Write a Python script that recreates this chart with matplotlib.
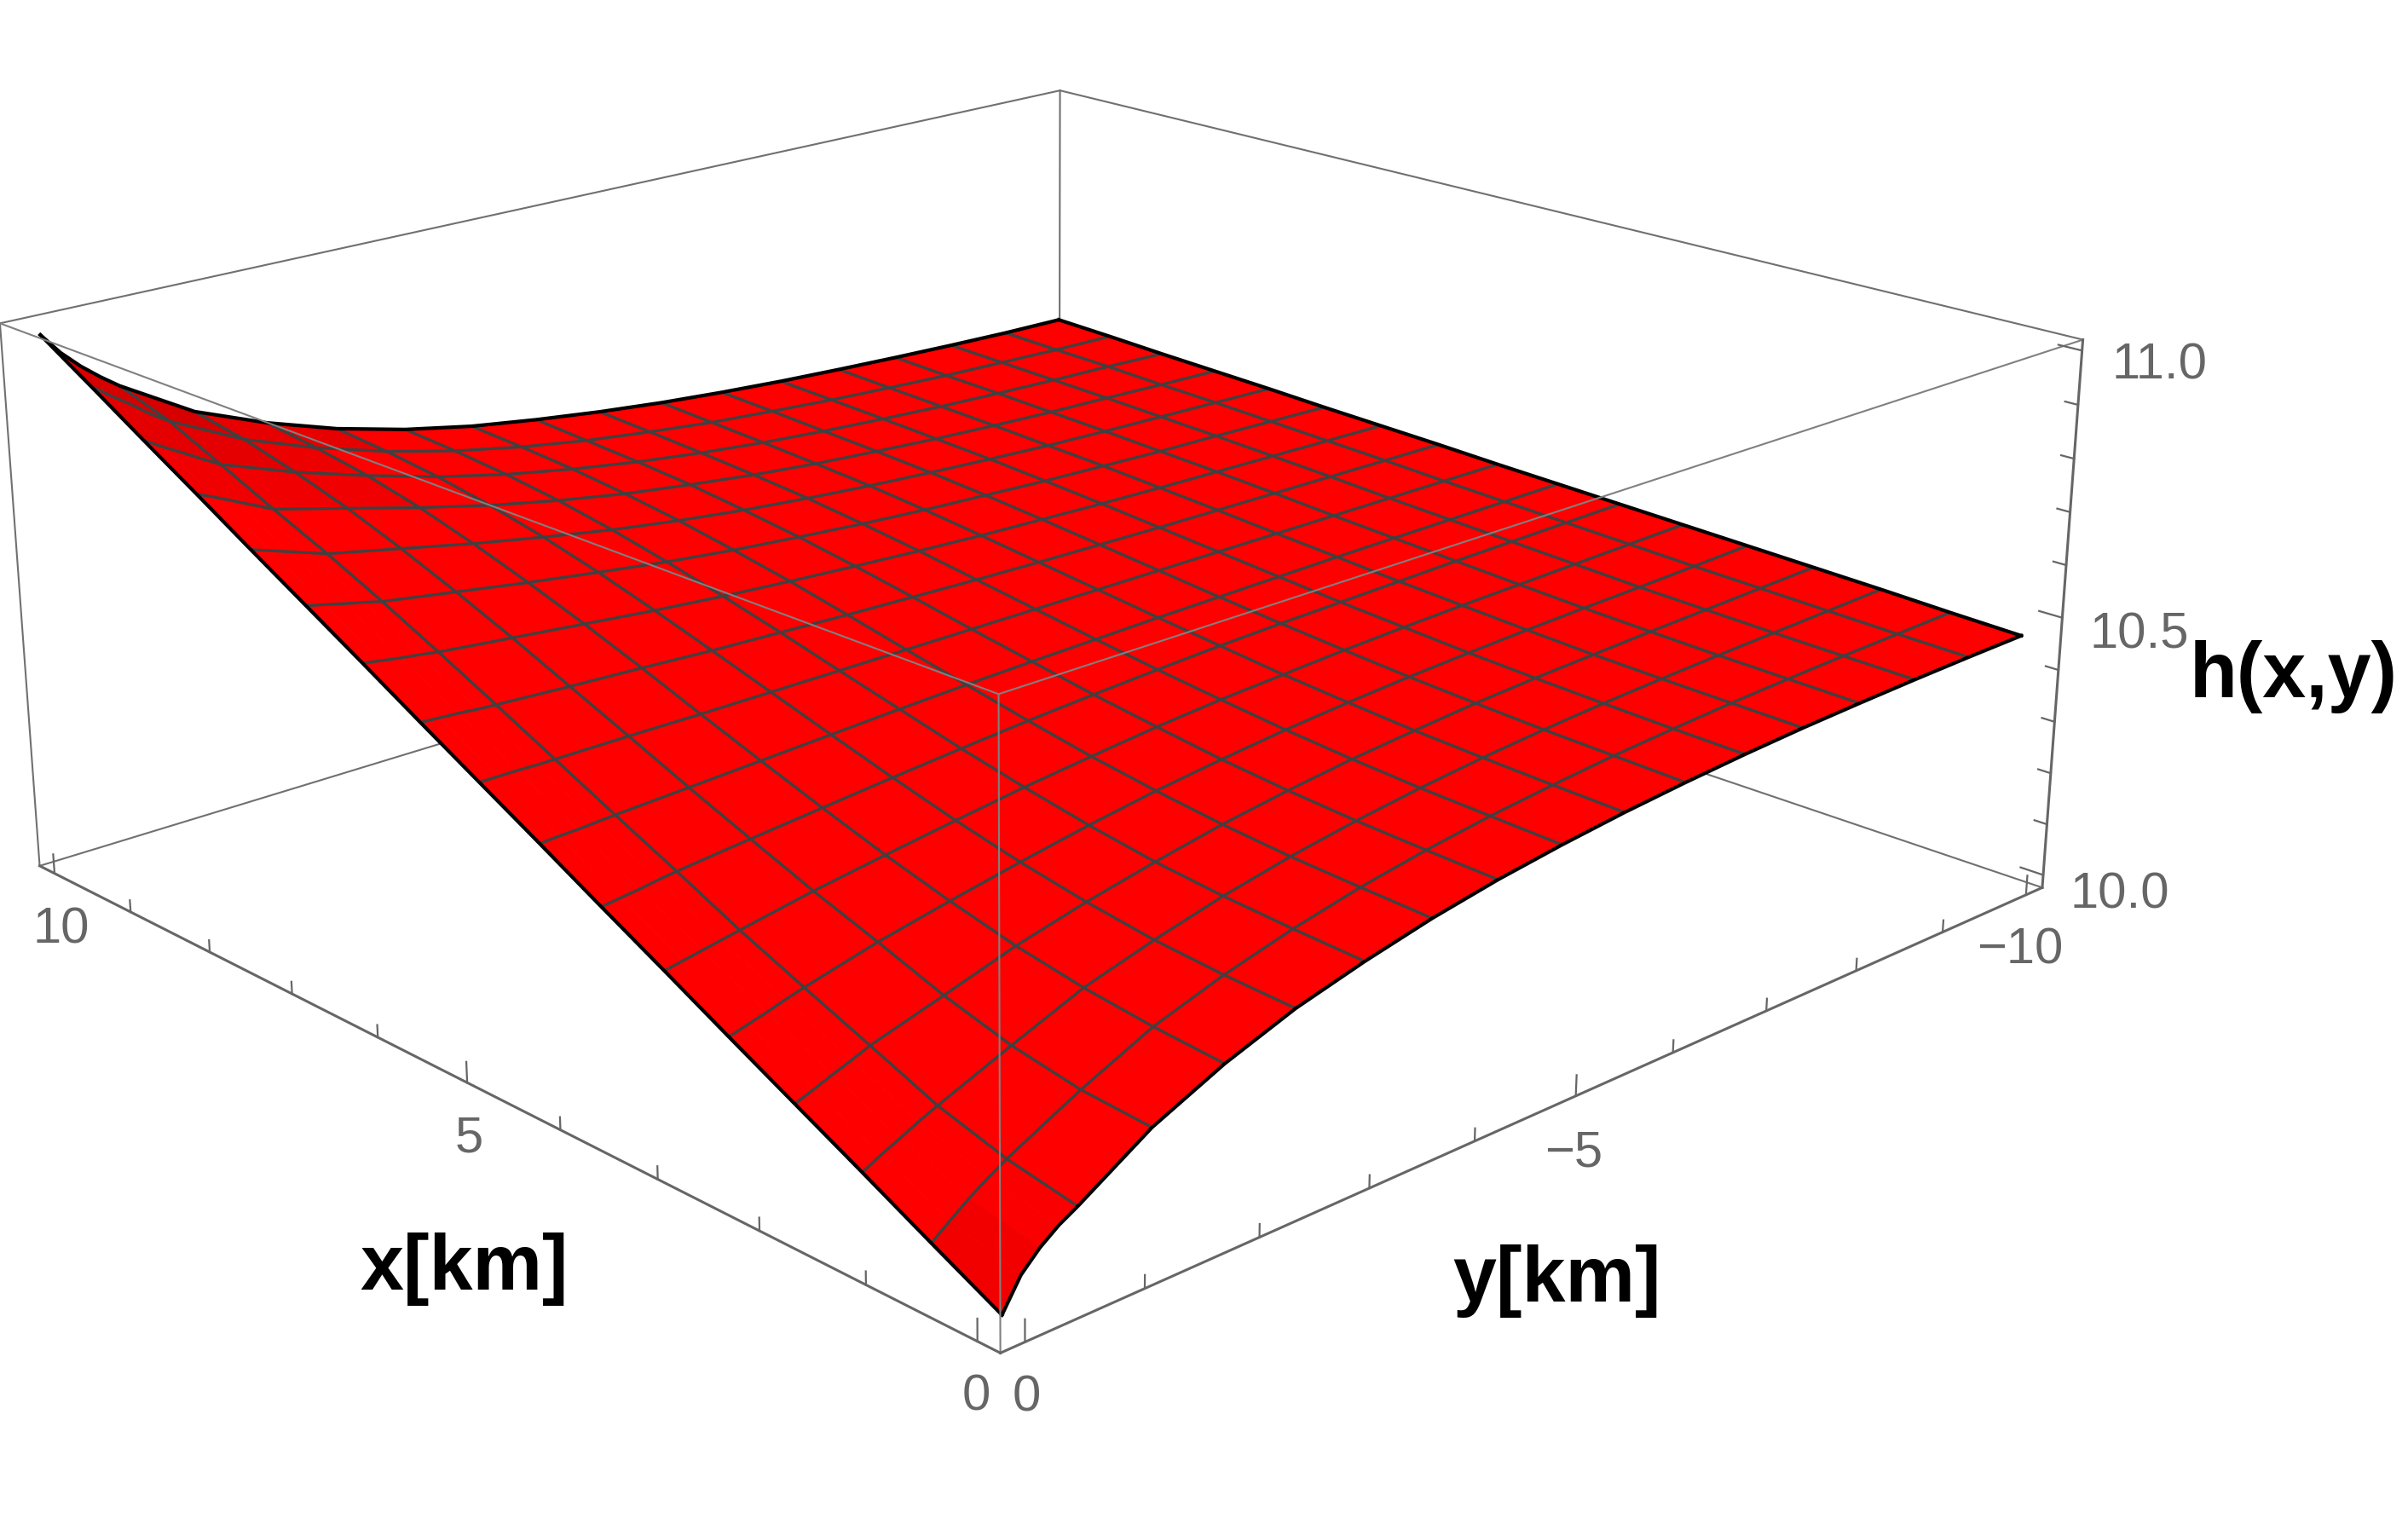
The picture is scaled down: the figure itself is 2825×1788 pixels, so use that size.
import matplotlib
matplotlib.use("Agg")
import matplotlib.pyplot as plt
import numpy as np

# grid of the surface, 16 mesh cells each way
x_km = [0.0, 0.625, 1.25, 1.875, 2.5, 3.125, 3.75, 4.375, 5.0,
        5.625, 6.25, 6.875, 7.5, 8.125, 8.75, 9.375, 10.0]
# three extra columns near y=0 where the surface bends fast
y_km = [0.0, -0.156, -0.3125, -0.469, -0.625, -1.25, -1.875, -2.5, -3.125, -3.75, -4.375, -5.0,
        -5.625, -6.25, -6.875, -7.5, -8.125, -8.75, -9.375, -10.0]
extra_cols = [1, 2, 3]

# h(x,y) - 10, rows go with x_km, columns with y_km
h_rows = [
    [.001, .054, .086, .110, .128, .208, .265, .310, .343, .371, .393, .410, .424, .435, .444, .451, .456, .460, .463, .465],
    [.063, .088, .112, .133, .152, .218, .276, .317, .350, .377, .398, .415, .428, .439, .447, .454, .459, .463, .466, .469],
    [.126, .143, .158, .174, .188, .241, .292, .328, .359, .384, .404, .420, .433, .443, .451, .457, .462, .466, .470, .474],
    [.188, .200, .213, .225, .238, .276, .315, .346, .372, .395, .413, .428, .439, .449, .456, .461, .466, .470, .474, .478],
    [.250, .259, .268, .278, .287, .319, .345, .369, .391, .410, .425, .438, .448, .456, .462, .467, .471, .474, .478, .482],
    [.313, .319, .325, .331, .337, .360, .379, .397, .414, .428, .441, .451, .458, .465, .470, .474, .477, .480, .483, .486],
    [.375, .379, .383, .388, .392, .405, .417, .429, .440, .450, .458, .465, .471, .475, .478, .481, .484, .486, .488, .490],
    [.438, .440, .441, .443, .445, .451, .457, .463, .469, .474, .478, .481, .484, .486, .488, .490, .491, .492, .493, .494],
    [.500, .500, .500, .499, .499, .499, .498, .498, .498, .498, .498, .498, .498, .498, .498, .498, .498, .498, .498, .498],
    [.562, .560, .558, .555, .553, .546, .540, .533, .528, .523, .519, .515, .512, .510, .508, .507, .506, .505, .504, .503],
    [.625, .620, .615, .611, .606, .593, .580, .567, .556, .547, .539, .532, .526, .522, .518, .515, .513, .511, .509, .507],
    [.687, .680, .672, .665, .657, .637, .617, .599, .582, .568, .557, .547, .539, .533, .527, .523, .519, .517, .514, .511],
    [.749, .738, .727, .716, .705, .678, .651, .627, .605, .587, .572, .560, .550, .542, .535, .529, .525, .522, .519, .516],
    [.812, .797, .781, .765, .749, .715, .681, .650, .624, .602, .585, .570, .558, .549, .541, .535, .530, .527, .523, .520],
    [.874, .853, .834, .814, .795, .746, .705, .668, .638, .614, .594, .578, .565, .555, .547, .540, .535, .531, .528, .524],
    [.937, .912, .888, .862, .840, .772, .722, .681, .648, .622, .601, .585, .571, .561, .552, .545, .539, .535, .531, .529],
    [.999, .958, .925, .897, .872, .790, .735, .690, .655, .628, .608, .591, .577, .566, .557, .550, .544, .539, .535, .533],
]

# cells that are not plain red: (row, first col, last col, colour)
tinted_cells = [(15, 0, 4, "#d60000"), (14, 0, 4, "#e40000"), (13, 0, 5, "#f00000"),
                (15, 5, 6, "#e60000"), (14, 5, 5, "#ec0000"),
                (0, 2, 3, "#fb0000"), (0, 0, 1, "#f20000")]

# box limits and ticks
x_lim = [-0.2, 10.2]
y_lim = [-10.2, 0.2]
z_lim = [9.975, 11.02]
x_minor = [1, 2, 3, 4, 6, 7, 8, 9]
x_major = [0, 5, 10]
y_minor = [-1, -2, -3, -4, -6, -7, -8, -9]
y_major = [0, -5, -10]
z_minor = [10.1, 10.2, 10.3, 10.4, 10.6, 10.7, 10.8, 10.9]
z_major = [10.0, 10.5, 11.0]

W, H = 2825, 1788
GREY = "#666666"

fig = plt.figure(figsize=(W / 100, H / 100), dpi=100, facecolor="white")
# camera fitted to the box corners of the reference
A = 2417.7
cx, cy = 1214.8, 715.0
u0 = 0.95 / 10 / 0.185 * A
ax = fig.add_axes([(cx - u0) / W, (H - cy - u0) / H, A / W, A / H], projection="3d", computed_zorder=False)
ax.set_axis_off()
ax.set_box_aspect((1, 1, 0.4))
ax.view_init(elev=19.38, azim=136.62)
ax.set_proj_type("persp", focal_length=0.4376)

X, Y = np.meshgrid(x_km, y_km, indexing="ij")
Z = 10 + np.array(h_rows)


def seg(a, b, **kw):
    ax.plot([a[0], b[0]], [a[1], b[1]], [a[2], b[2]], clip_on=False, **kw)


x0, x1 = x_lim
y0, y1 = y_lim
z0, z1 = z_lim

# back of box, under surface
back = dict(color="#707070", lw=1.5, zorder=1)
seg((x1, y0, z0), (x1, y0, z1), **back)
seg((x1, y0, z0), (x0, y0, z0), **back)
seg((x1, y0, z0), (x1, y1, z0), **back)
seg((x1, y0, z1), (x0, y0, z1), **back)
seg((x1, y0, z1), (x1, y1, z1), **back)
seg((x1, y1, z0), (x1, y1, z1), **back)

# surface
colors = np.empty((len(x_km) - 1, len(y_km) - 1, 4))
colors[:, :] = matplotlib.colors.to_rgba("#ff0000")
for row, c0, c1, col in tinted_cells:
    colors[row, c0:c1 + 1] = matplotlib.colors.to_rgba(col)
ax.plot_surface(X, Y, Z, rstride=1, cstride=1, facecolors=colors, shade=False, linewidth=0.6, zorder=2)

# mesh
mesh = dict(color="#404040", lw=2.4, zorder=2.5, solid_capstyle="butt")
for i in range(1, len(x_km) - 1):
    ax.plot(X[i], Y[i], Z[i], **mesh)
for j in range(1, len(y_km) - 1):
    if j not in extra_cols:
        ax.plot(X[:, j], Y[:, j], Z[:, j], **mesh)

# boundary of the surface
edge = dict(color="black", lw=3.0, zorder=3)
ax.plot(X[0], Y[0], Z[0], **edge)
ax.plot(X[-1], Y[-1], Z[-1], **edge)
ax.plot(X[:, 0], Y[:, 0], Z[:, 0], **edge)
ax.plot(X[:, -1], Y[:, -1], Z[:, -1], **edge)

# front of box, over surface
front = dict(color="#808080", lw=1.5, zorder=4)
seg((x0, y1, z0), (x0, y1, z1), **front)
seg((x0, y1, z1), (x1, y1, z1), **front)
seg((x0, y1, z1), (x0, y0, z1), **front)
axis = dict(color=GREY, lw=2.2, zorder=4)
seg((x0, y1, z0), (x1, y1, z0), **axis)
seg((x0, y1, z0), (x0, y0, z0), **axis)
seg((x0, y0, z0), (x0, y0, z1), **axis)

for ticks, dz in ((x_minor, 0.023), (x_major, 0.038)):
    for v in ticks:
        seg((v, y1, z0), (v, y1, z0 + dz), color=GREY, lw=1.6, zorder=4)
for ticks, dz in ((y_minor, 0.023), (y_major, 0.038)):
    for v in ticks:
        seg((x0, v, z0), (x0, v, z0 + dz), color=GREY, lw=1.6, zorder=4)
for ticks, dx in ((z_minor, 0.11), (z_major, 0.2)):
    for v in ticks:
        seg((x0, y0, v), (x0 + dx, y0, v), color=GREY, lw=1.6, zorder=4)

ax.set_xlim(x_lim)
ax.set_ylim(y_lim)
ax.set_zlim(z_lim)


def label(s, px, py, size, **kw):
    fig.text(px / W, 1 - py / H, s, ha="center", va="center", fontsize=size,
             family="Liberation Sans", **kw)


for s, px, py in [("0", 1145, 1639), ("0", 1204, 1640), ("5", 550, 1336), ("10", 72, 1091),
                  ("\u22125", 1846, 1353), ("\u221210", 2370, 1115),
                  ("10.0", 2487, 1050), ("10.5", 2510, 745), ("11.0", 2533, 429)]:
    label(s, px, py, 43, color=GREY)
for s, px, py in [("x[km]", 545, 1489), ("y[km]", 1826, 1503), ("h(x,y)", 2691, 794)]:
    label(s, px, py, 66, color="black", fontweight="bold")

fig.savefig("out.png", dpi=100)
